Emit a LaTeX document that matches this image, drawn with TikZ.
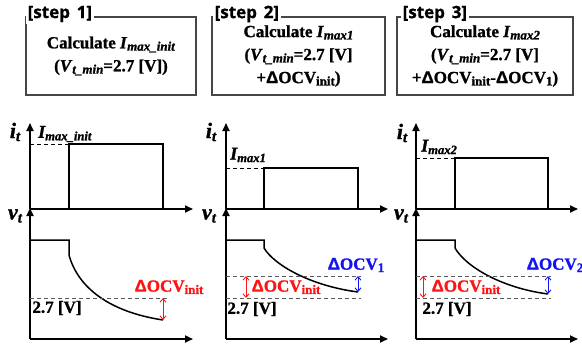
\documentclass[tikz,border=0pt]{standalone}
\usepackage{fontspec}
\setmainfont{Liberation Serif}[BoldFeatures={FakeBold=1.2},BoldItalicFeatures={FakeBold=1.2}]
\newfontfamily\lsans{Liberation Sans}[BoldFeatures={FakeBold=1.2}]
\newfontfamily\osans{Open Sans}[BoldFeatures={FakeBold=1}]
\usetikzlibrary{arrows.meta}
\newcommand\lo[2][13]{\raisebox{-0.3ex}{\fontsize{#1}{#1}\selectfont #2}}
\newcommand\dl{{\lsans\bfseries Δ}}
\definecolor{myred}{RGB}{255,20,20}
\definecolor{myblue}{RGB}{20,20,240}
\definecolor{boxgray}{RGB}{70,70,70}
\definecolor{dashgray}{RGB}{90,90,90}
\tikzset{
  stepbox/.style={draw=boxgray, line width=1.1pt, minimum width=170pt, minimum height=78pt,
    align=center, inner sep=0pt, font=\fontsize{17}{23}\selectfont\bfseries},
  steplabel/.style={fill=white, inner sep=1.5pt, anchor=west, font=\osans\bfseries\fontsize{17}{17}\selectfont},
  axis/.style={line width=1.8pt, -{Triangle[length=8pt,width=7pt]}},
  sig/.style={line width=1.5pt, line join=miter},
  guide/.style={dashgray, line width=0.9pt, dash pattern=on 4pt off 3pt},
  redarr/.style={myred, line width=0.9pt, {Straight Barb[length=3.5pt,width=6pt]}-{Straight Barb[length=3.5pt,width=6pt]}},
  bluearr/.style={myblue, line width=0.9pt, {Straight Barb[length=3.5pt,width=6pt]}-{Straight Barb[length=3.5pt,width=6pt]}},
  axlab/.style={inner sep=0pt, font=\fontsize{22}{22}\selectfont\bfseries\itshape},
  imlab/.style={inner sep=0pt, anchor=west, font=\fontsize{18}{18}\selectfont\bfseries\itshape},
  vlab/.style={inner sep=0pt, font=\fontsize{17}{17}\selectfont\bfseries},
  redlab/.style={inner sep=0pt, text=myred, font=\fontsize{17}{17}\selectfont\bfseries},
  bluelab/.style={inner sep=0pt, text=myblue, font=\fontsize{17}{17}\selectfont\bfseries},
}
\begin{document}
\begin{tikzpicture}[x=1pt,y=-1pt]
\useasboundingbox (0,0) rectangle (582,351);
% ---------- step boxes ----------
\node[stepbox] (box1) at (111,56) {Calculate \textit{I}\lo{\textit{max\_init}}\\(\textit{V}\lo{\textit{t\_min}}=2.7 [V])};
\node[stepbox, minimum width=173pt] (box2) at (298.5,56) {Calculate \textit{I}\lo{\textit{max1}}\\(\textit{V}\lo{\textit{t\_min}}=2.7 [V]\\+\dl OCV\lo{init})};
\node[stepbox, minimum width=176pt] (box3) at (485,56) {Calculate \textit{I}\lo{\textit{max2}}\\(\textit{V}\lo{\textit{t\_min}}=2.7 [V]\\+\dl OCV\lo{init}-\dl OCV\lo{1})};
\node[steplabel] (lab1) at (26,14) {[step\hspace{0.4em}1]};
\node[steplabel] (lab2) at (213,14) {[step\hspace{0.4em}2]};
\node[steplabel] (lab3) at (401,14) {[step\hspace{0.4em}3]};

% ---------- panel 1 ----------
\coordinate (o1) at (30,209); \coordinate (it1) at (30,123); \coordinate (ix1) at (193,209);
\coordinate (b1) at (30,339); \coordinate (vx1) at (193,339); \coordinate (vt1) at (30,208);
\draw[guide, black] (30,144) -- (69,144);
\draw[sig] (69,209) -- (69,144) -- (163,144) -- (163,209);
\draw[axis] (o1) -- (ix1);
\draw[axis] (o1) -- (it1);
\draw[axis] (b1) -- (vx1);
\draw[axis] (b1) -- (vt1);
\draw[sig] (30,240) -- (69,240) -- (69,255) .. controls (78,288) and (110,312) .. (163,320);
\draw[guide] (30,298) -- (170,298);
\coordinate (r1a) at (163,298); \coordinate (r1b) at (163,320);
\draw[redarr] (r1a) -- (r1b);
\node[axlab] (i1) at (15,132) {i\lo[15]{t}};
\node[axlab] (v1) at (15,216) {v\lo[15]{t}};
\node[imlab] (im1) at (38,134) {I\lo[12.6]{max\_init}};
\node[vlab] (t1) at (57,308) {2.7 [V]};
\node[redlab] (d1) at (169,287) {\dl OCV\lo{init}};

% ---------- panel 2 ----------
\coordinate (o2) at (226,209); \coordinate (it2) at (226,123); \coordinate (ix2) at (388,209);
\coordinate (b2) at (226,339); \coordinate (vx2) at (388,339); \coordinate (vt2) at (226,208);
\draw[guide, black] (226,168) -- (264,168);
\draw[sig] (264,209) -- (264,168) -- (358,168) -- (358,209);
\draw[axis] (o2) -- (ix2);
\draw[axis] (o2) -- (it2);
\draw[axis] (b2) -- (vx2);
\draw[axis] (b2) -- (vt2);
\draw[sig] (226,240) -- (264,240) -- (264,248) .. controls (275,266) and (312,286) .. (358,292);
\draw[guide] (226,276) -- (361,276);
\draw[guide] (226,298) -- (361,298);
\coordinate (r2a) at (246,276); \coordinate (r2b) at (246,298);
\draw[redarr] (r2a) -- (r2b);
\coordinate (u2a) at (358,276); \coordinate (u2b) at (358,292);
\draw[bluearr] (u2a) -- (u2b);
\node[axlab] (i2) at (211,132) {i\lo[15]{t}};
\node[axlab] (v2) at (209,216) {v\lo[15]{t}};
\node[imlab] (im2) at (230,155) {I\lo[12.6]{max1}};
\node[vlab] (t2) at (252,309) {2.7 [V]};
\node[redlab] (d2) at (286,287) {\dl OCV\lo{init}};
\node[bluelab] (e2) at (356,265) {\dl OCV\lo{1}};

% ---------- panel 3 ----------
\coordinate (o3) at (416,209); \coordinate (it3) at (416,123); \coordinate (ix3) at (578,209);
\coordinate (b3) at (416,339); \coordinate (vx3) at (578,339); \coordinate (vt3) at (416,208);
\draw[guide, black] (416,158) -- (455,158);
\draw[sig] (455,209) -- (455,158) -- (548,158) -- (548,209);
\draw[axis] (o3) -- (ix3);
\draw[axis] (o3) -- (it3);
\draw[axis] (b3) -- (vx3);
\draw[axis] (b3) -- (vt3);
\draw[sig] (416,240) -- (455,240) -- (455,248) .. controls (466,267) and (502,288) .. (548,294);
\draw[guide] (416,276) -- (551,276);
\draw[guide] (416,298) -- (551,298);
\coordinate (r3a) at (423,276); \coordinate (r3b) at (423,298);
\draw[redarr] (r3a) -- (r3b);
\coordinate (u3a) at (548,276); \coordinate (u3b) at (548,294);
\draw[bluearr] (u3a) -- (u3b);
\node[axlab] (i3) at (402,133) {i\lo[15]{t}};
\node[axlab] (v3) at (401,216) {v\lo[15]{t}};
\node[imlab] (im3) at (421,147) {I\lo[12.6]{max2}};
\node[vlab] (t3) at (447,309) {2.7 [V]};
\node[redlab] (d3) at (466,287) {\dl OCV\lo{init}};
\node[bluelab] (e3) at (555,265) {\dl OCV\lo{2}};
\end{tikzpicture}
\end{document}
